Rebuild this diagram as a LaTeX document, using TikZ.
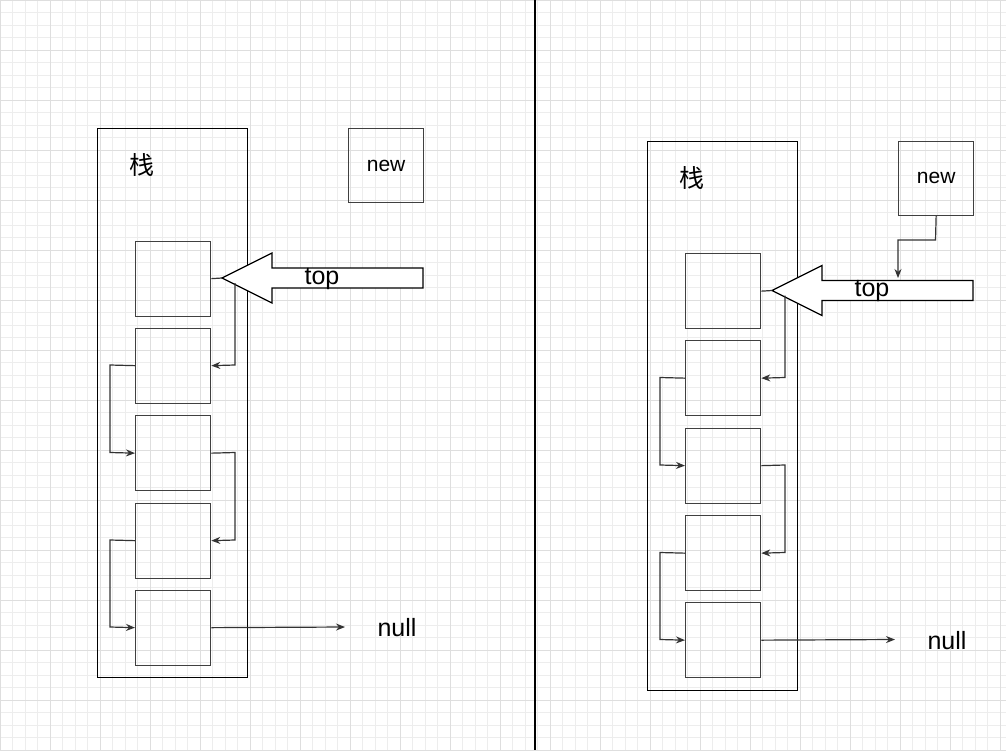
\documentclass[tikz,border=0pt]{standalone}
\usepackage{fontspec}
\usetikzlibrary{arrows.meta}
\setmainfont{Liberation Sans}
\newfontfamily\cjk{Noto Sans CJK SC}
\begin{document}
\begin{tikzpicture}[x=1pt,y=-1pt,
  bx/.style={draw=black!75,line width=1.3pt},
  ln/.style={draw=black!80,line width=1.2pt},
  ar/.style={ln,-{Stealth[length=9pt,width=7pt]}}]
\useasboundingbox (0,0) rectangle (1006,750);
\fill[white] (0,0) rectangle (1006,750);
\foreach \k in {0,...,80}{
  \draw[black!7,line width=0.6pt] (\k*12.5,0) -- (\k*12.5,750);
}
\foreach \k in {0,...,60}{
  \draw[black!7,line width=0.6pt] (0,\k*12.5) -- (1006,\k*12.5);
}
\foreach \k in {0,...,20}{
  \draw[black!13,line width=0.7pt] (\k*50,0) -- (\k*50,750);
}
\foreach \k in {0,...,15}{
  \draw[black!13,line width=0.7pt] (0,\k*50) -- (1006,\k*50);
}
\draw[black,line width=1.3pt] (535,0) -- (535,750);
\foreach \dx/\dy/\p in {0/0/L,550/12.5/R}{
\begin{scope}[shift={(\dx,\dy)}]
\node[draw=black,line width=1.3pt,minimum width=150,minimum height=549,inner sep=0,anchor=north west] (stack\p) at (97,128) {};
\node[font=\cjk\fontsize{25}{25}\selectfont] (zh\p) at (142,165) {栈};
\node[bx,minimum width=75,minimum height=74,inner sep=0,anchor=north west,font=\fontsize{21}{21}\selectfont] (new\p) at (348,128) {new};
\foreach \i/\y in {1/240.5,2/327.5,3/415,4/502.5,5/589.5}{
  \node[bx,minimum width=75,minimum height=75,inner sep=0,anchor=north west] (b\p\i) at (135,\y) {};
}
\coordinate (tip\p) at (222,278);
\draw[line width=1.3pt,fill=white] (tip\p) -- (272,253) -- (272,268) -- (423,268) -- (423,288) -- (272,288) -- (272,303) -- cycle;
\node[font=\fontsize{25}{25}\selectfont] (top\p) at (322,279) {top};
\draw[ln] (b\p1.east) -- (tip\p);
\draw[ar] (235,283) -- (235,365) -- (b\p2.east);
\draw[ar] (b\p2.west) -- (110,365) -- (110,452.5) -- (b\p3.west);
\draw[ar] (b\p3.east) -- (235,452.5) -- (235,540) -- (b\p4.east);
\draw[ar] (b\p4.west) -- (110,540) -- (110,627) -- (b\p5.west);
\coordinate (nl\p) at (345,627);
\draw[ar] (b\p5.east) -- (nl\p);
\node[font=\fontsize{25}{25}\selectfont] (null\p) at (397,628) {null};
\end{scope}}
\coordinate (c1) at (935.5,240);
\draw[ar] (newR.south) -- (c1) -- (898,240) -- (898,278);
\end{tikzpicture}
\end{document}
